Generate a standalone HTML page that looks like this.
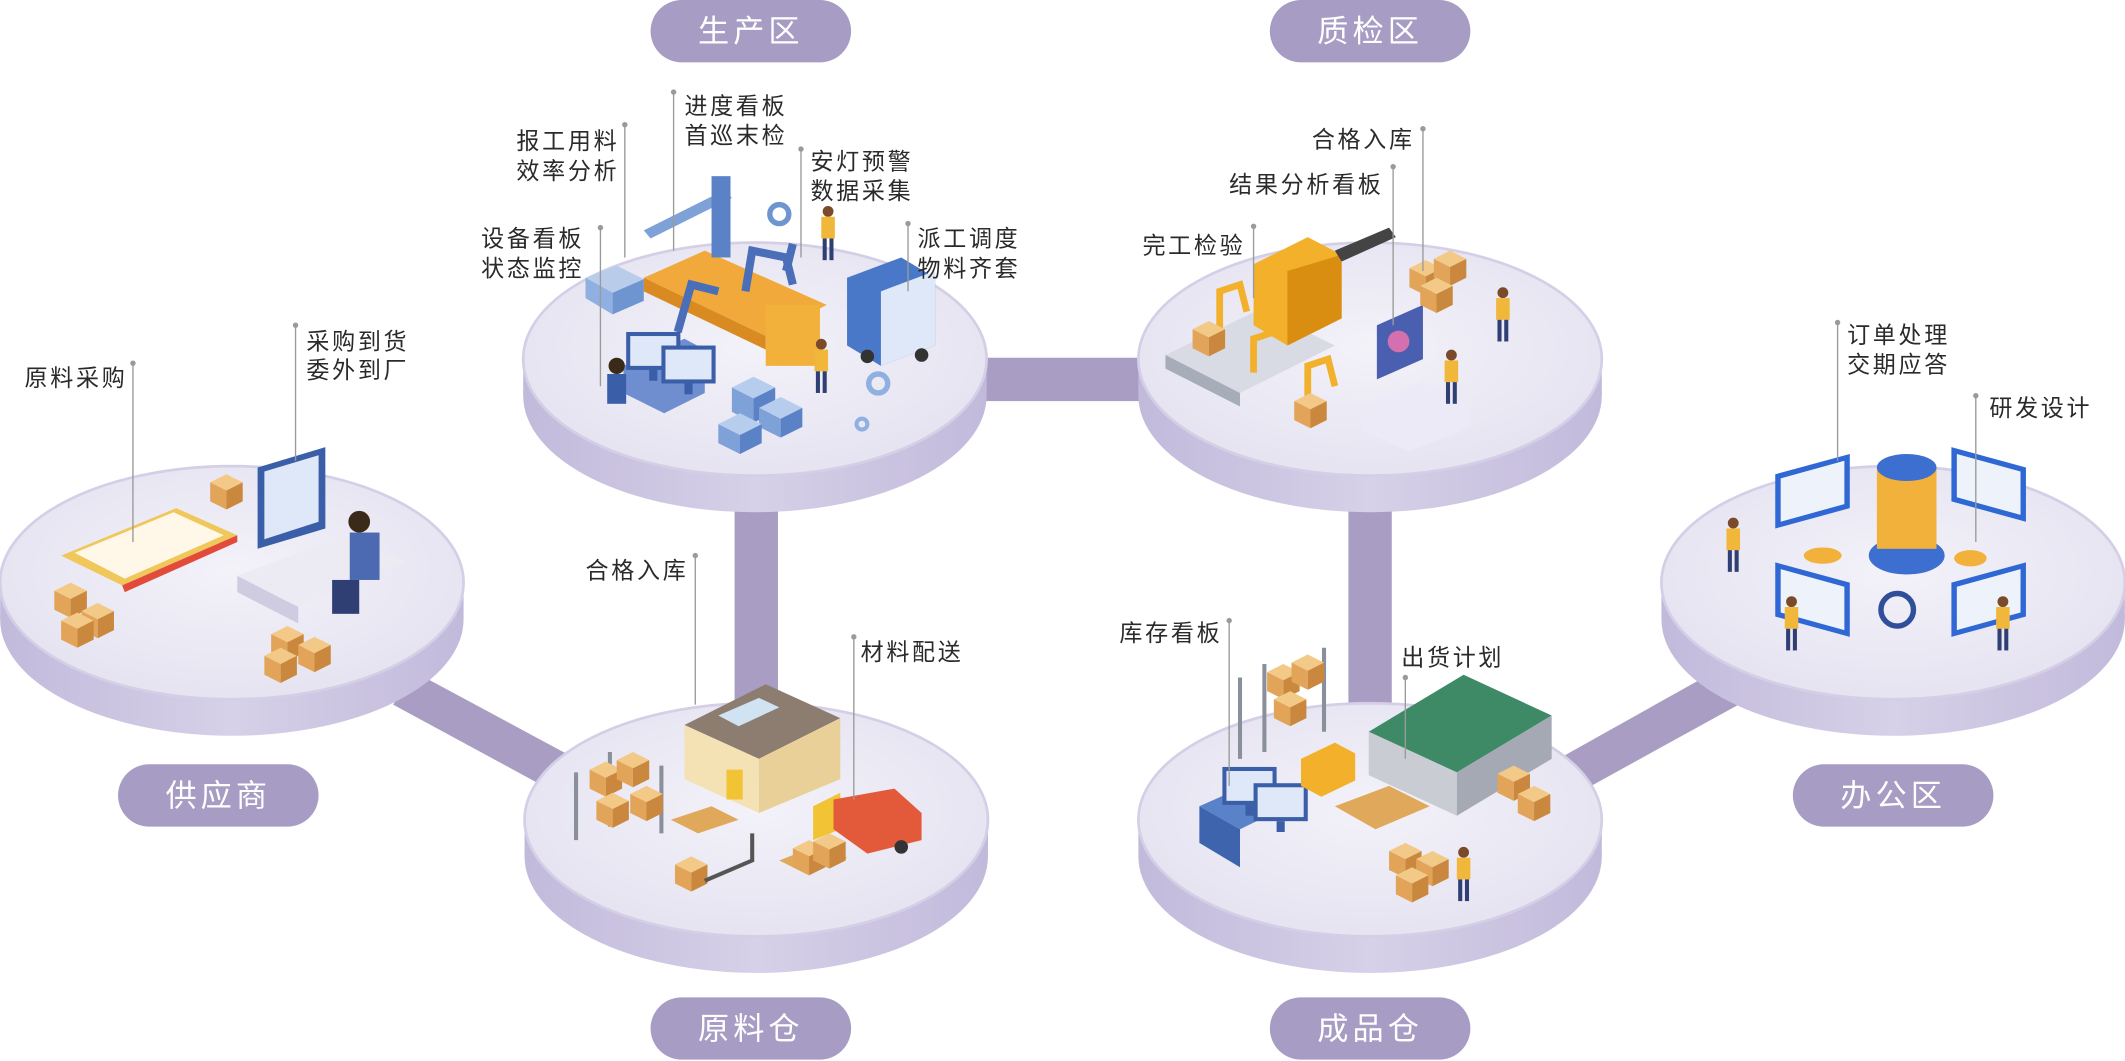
<!DOCTYPE html>
<html><head><meta charset="utf-8">
<style>
html,body{margin:0;padding:0;background:#fff;width:2125px;height:1061px;overflow:hidden}
svg{display:block}
text{font-family:"Liberation Sans","Noto Sans CJK SC",sans-serif}
.a{font-size:17px;fill:#2a2a2a;letter-spacing:2px}
.p{font-size:23px;fill:#fff;letter-spacing:3px}
</style></head><body>
<svg width="2125" height="1061" viewBox="0 0 1568 783" xmlns="http://www.w3.org/2000/svg">
<defs>
<linearGradient id="side" x1="0" y1="0" x2="1" y2="0">
<stop offset="0" stop-color="#c2badb"/><stop offset="0.5" stop-color="#d6d0e8"/><stop offset="1" stop-color="#c2badb"/>
</linearGradient>
<radialGradient id="top" cx="0.5" cy="0.45" r="0.6">
<stop offset="0" stop-color="#f3f2f9"/><stop offset="1" stop-color="#e4e2f0"/>
</radialGradient>
<g id="box"><polygon points="0,6 12,0 24,6 12,12" fill="#f3c987"/><polygon points="0,6 12,12 12,26 0,20" fill="#e2a458"/><polygon points="12,12 24,6 24,20 12,26" fill="#c9883e"/></g>
<g id="mon"><rect x="0" y="0" width="40" height="28" fill="#3b5ea8"/><rect x="3" y="3" width="34" height="22" fill="#dfe8f8"/><rect x="17" y="28" width="6" height="8" fill="#3b5ea8"/></g>
<g id="man"><circle cx="6" cy="4" r="4" fill="#7a4a2a"/><rect x="1" y="8" width="10" height="16" fill="#f0b73a"/><rect x="2" y="24" width="3" height="16" fill="#2f3f73"/><rect x="7" y="24" width="3" height="16" fill="#2f3f73"/></g>
</defs>

<!-- connectors -->
<g fill="#a99dc3">
<rect x="720" y="264" width="125" height="32"/>
<rect x="542" y="365" width="32" height="160"/>
<rect x="995" y="365" width="32" height="160"/>
<polygon points="290,520 306,496 425,560 410,585"/>
<polygon points="1150,560 1268,494 1283,520 1165,585"/>
</g>

<!-- discs -->
<g id="discs">
<g transform="translate(171,430)"><ellipse cx="0" cy="27" rx="171" ry="86" fill="url(#side)"/><rect x="-171" y="0" width="342" height="27" fill="url(#side)"/><ellipse cx="0" cy="0" rx="171" ry="86" fill="url(#top)" stroke="#d4cfe6" stroke-width="2"/></g>
<g transform="translate(557,265)"><ellipse cx="0" cy="27" rx="171" ry="86" fill="url(#side)"/><rect x="-171" y="0" width="342" height="27" fill="url(#side)"/><ellipse cx="0" cy="0" rx="171" ry="86" fill="url(#top)" stroke="#d4cfe6" stroke-width="2"/></g>
<g transform="translate(1011,265)"><ellipse cx="0" cy="27" rx="171" ry="86" fill="url(#side)"/><rect x="-171" y="0" width="342" height="27" fill="url(#side)"/><ellipse cx="0" cy="0" rx="171" ry="86" fill="url(#top)" stroke="#d4cfe6" stroke-width="2"/></g>
<g transform="translate(558,605)"><ellipse cx="0" cy="27" rx="171" ry="86" fill="url(#side)"/><rect x="-171" y="0" width="342" height="27" fill="url(#side)"/><ellipse cx="0" cy="0" rx="171" ry="86" fill="url(#top)" stroke="#d4cfe6" stroke-width="2"/></g>
<g transform="translate(1011,605)"><ellipse cx="0" cy="27" rx="171" ry="86" fill="url(#side)"/><rect x="-171" y="0" width="342" height="27" fill="url(#side)"/><ellipse cx="0" cy="0" rx="171" ry="86" fill="url(#top)" stroke="#d4cfe6" stroke-width="2"/></g>
<g transform="translate(1397,430)"><ellipse cx="0" cy="27" rx="171" ry="86" fill="url(#side)"/><rect x="-171" y="0" width="342" height="27" fill="url(#side)"/><ellipse cx="0" cy="0" rx="171" ry="86" fill="url(#top)" stroke="#d4cfe6" stroke-width="2"/></g>
</g>

<!-- pills -->
<g fill="#a69cc4">
<rect x="480" y="0" width="148" height="46" rx="23"/>
<rect x="937" y="0" width="148" height="46" rx="23"/>
<rect x="87" y="564" width="148" height="46" rx="23"/>
<rect x="1323" y="564" width="148" height="46" rx="23"/>
<rect x="480" y="736" width="148" height="46" rx="23"/>
<rect x="937" y="736" width="148" height="46" rx="23"/>
</g>
<g class="p" text-anchor="middle">
<text x="554" y="31">生产区</text>
<text x="1011" y="31">质检区</text>
<text x="161" y="595">供应商</text>
<text x="1397" y="595">办公区</text>
<text x="554" y="767">原料仓</text>
<text x="1011" y="767">成品仓</text>
</g>

<!-- illustrations: supplier -->
<g>
<polygon points="45,410 130,375 175,395 90,432" fill="#f0c75a"/>
<polygon points="55,408 128,378 165,395 92,427" fill="#fff8e8"/>
<polygon points="90,432 175,395 175,400 92,437" fill="#e24a3a"/>
<g transform="translate(190,330)"><polygon points="0,15 50,0 50,60 0,75" fill="#3b5ea8"/><polygon points="5,18 45,6 45,55 5,68" fill="#dfe8f8"/></g>
<polygon points="175,425 255,395 300,415 220,448" fill="#eceaf3"/>
<polygon points="175,425 220,448 220,460 175,437" fill="#cfcbe0"/>
<circle cx="265" cy="385" r="8" fill="#3a2a1a"/><rect x="258" y="393" width="22" height="35" fill="#4c6ab2"/><rect x="245" y="428" width="20" height="25" fill="#2f3f73"/>
<use href="#box" x="155" y="350"/><use href="#box" x="40" y="430"/><use href="#box" x="60" y="445"/><use href="#box" x="45" y="452"/><use href="#box" x="200" y="462"/><use href="#box" x="220" y="470"/><use href="#box" x="195" y="478"/>
</g>

<!-- production -->
<g>
<polygon points="475,205 520,185 610,225 565,248" fill="#f2a93b"/>
<polygon points="475,205 565,248 565,258 475,215" fill="#d98a20"/>
<rect x="565" y="225" width="40" height="45" fill="#f2b13a"/>
<polygon points="475,170 535,140 540,146 480,176" fill="#7ea1d8"/>
<rect x="525" y="130" width="14" height="60" fill="#5b82c6"/>
<path d="M500,245 l10,-35 l20,5" stroke="#4a6fb8" stroke-width="6" fill="none"/>
<path d="M550,215 l5,-30 l25,5 l5,20" stroke="#4a6fb8" stroke-width="6" fill="none"/>
<path d="M580,200 l5,-20" stroke="#4a6fb8" stroke-width="6" fill="none"/>
<polygon points="432,205 455,196 475,206 452,216" fill="#b9cdea"/><polygon points="432,205 452,216 452,232 432,220" fill="#8fb0e0"/><polygon points="452,216 475,206 475,222 452,232" fill="#6f95d0"/>
<polygon points="460,270 505,250 520,258 520,290 490,305 460,290" fill="#6f8ed0"/>
<use href="#mon" x="462" y="245"/><use href="#mon" x="488" y="255"/>
<circle cx="455" cy="270" r="6" fill="#3a2a1a"/><rect x="448" y="276" width="14" height="22" fill="#3b5ea8"/>
<polygon points="625,205 665,190 690,205 690,255 650,270 625,255" fill="#4a78c8"/><polygon points="650,215 690,200 690,255 650,270" fill="#dfe8f8"/>
<circle cx="640" cy="263" r="5" fill="#333"/><circle cx="680" cy="262" r="5" fill="#333"/>
<use href="#man" x="605" y="152"/><use href="#man" x="600" y="250"/>
<g transform="translate(540,278)"><polygon points="0,8 16,0 32,8 16,16" fill="#b6cdee"/><polygon points="0,8 16,16 16,34 0,26" fill="#7ea1d8"/><polygon points="16,16 32,8 32,26 16,34" fill="#5b82c6"/></g>
<g transform="translate(560,293)"><polygon points="0,8 16,0 32,8 16,16" fill="#b6cdee"/><polygon points="0,8 16,16 16,30 0,22" fill="#7ea1d8"/><polygon points="16,16 32,8 32,22 16,30" fill="#5b82c6"/></g>
<g transform="translate(530,305)"><polygon points="0,8 16,0 32,8 16,16" fill="#b6cdee"/><polygon points="0,8 16,16 16,30 0,22" fill="#7ea1d8"/><polygon points="16,16 32,8 32,22 16,30" fill="#5b82c6"/></g>
<circle cx="575" cy="158" r="7" fill="none" stroke="#6f95d0" stroke-width="4"/><circle cx="648" cy="283" r="7" fill="none" stroke="#8fb0e0" stroke-width="4"/><circle cx="636" cy="313" r="4" fill="none" stroke="#8fb0e0" stroke-width="3"/>
</g>

<!-- QC -->
<g>
<polygon points="860,262 930,228 985,255 915,290" fill="#d8dbe4"/><polygon points="860,262 915,290 915,300 860,272" fill="#a7acb9"/>
<polygon points="925,195 965,175 990,188 990,235 950,255 925,240" fill="#f2b02b"/><polygon points="950,200 990,188 990,235 950,255" fill="#d98e12"/>
<polygon points="985,185 1025,168 1030,175 990,193" fill="#444"/>
<path d="M900,250 l0,-35 l15,-5 l5,20" stroke="#f2b02b" stroke-width="5" fill="none"/>
<path d="M965,300 l0,-30 l15,-5 l5,20" stroke="#f2b02b" stroke-width="5" fill="none"/>
<path d="M925,275 l0,-25 l15,-5" stroke="#f2b02b" stroke-width="5" fill="none"/>
<polygon points="1016,240 1050,225 1050,265 1016,280" fill="#4a5fb0"/><circle cx="1032" cy="252" r="8" fill="#d46fb0"/>
<polygon points="1005,300 1050,282 1085,298 1085,315 1040,333 1005,318" fill="#eceaf6"/>
<use href="#man" x="1065" y="258"/><use href="#man" x="1103" y="212"/>
<use href="#box" x="1040" y="192"/><use href="#box" x="1058" y="185"/><use href="#box" x="1048" y="205"/>
<use href="#box" x="880" y="237"/><use href="#box" x="955" y="290"/>
</g>

<!-- raw warehouse -->
<g>
<polygon points="505,535 565,505 620,530 560,560" fill="#8d7c70"/>
<polygon points="505,535 560,560 560,600 505,575" fill="#f4e2b5"/>
<polygon points="560,560 620,530 620,575 560,600" fill="#e9d098"/>
<rect x="536" y="568" width="12" height="22" fill="#f2c334"/>
<polygon points="530,528 560,515 575,522 545,536" fill="#cfe3f2"/>
<g stroke="#8a8f9c" stroke-width="3"><line x1="425" y1="570" x2="425" y2="620"/><line x1="450" y1="555" x2="450" y2="610"/><line x1="488" y1="565" x2="488" y2="615"/></g>
<use href="#box" x="435" y="562"/><use href="#box" x="455" y="555"/><use href="#box" x="440" y="585"/><use href="#box" x="465" y="580"/>
<polygon points="600,595 620,585 620,612 600,620" fill="#f2c334"/>
<polygon points="615,590 660,582 680,600 680,620 640,630 615,612" fill="#e25a3a"/>
<circle cx="612" cy="622" r="5" fill="#333"/><circle cx="665" cy="625" r="5" fill="#333"/>
<polygon points="495,605 525,595 545,605 515,615" fill="#e0a85a"/><polygon points="575,635 605,623 625,633 595,645" fill="#e0a85a"/>
<use href="#box" x="585" y="620"/><use href="#box" x="600" y="615"/><use href="#box" x="498" y="632"/>
<path d="M520,650 l35,-15 l0,-20" stroke="#555" stroke-width="3" fill="none"/>
</g>

<!-- finished warehouse -->
<g>
<polygon points="1010,540 1080,498 1145,528 1075,570" fill="#3f8a66"/>
<polygon points="1010,540 1075,570 1075,602 1010,572" fill="#c9ccd3"/>
<polygon points="1075,570 1145,528 1145,560 1075,602" fill="#a4a9b3"/>
<g stroke="#8a8f9c" stroke-width="3"><line x1="915" y1="500" x2="915" y2="560"/><line x1="933" y1="490" x2="933" y2="555"/><line x1="977" y1="478" x2="977" y2="540"/></g>
<use href="#box" x="935" y="490"/><use href="#box" x="953" y="483"/><use href="#box" x="940" y="510"/>
<polygon points="885,595 930,575 960,590 915,612" fill="#5a82c8"/><polygon points="885,595 915,612 915,640 885,622" fill="#3d64ac"/>
<use href="#mon" x="902" y="566"/><use href="#mon" x="925" y="578"/>
<polygon points="960,560 985,548 1000,556 1000,576 975,588 960,580" fill="#f2b02b"/>
<polygon points="985,595 1025,580 1055,595 1015,612" fill="#e0a85a"/>
<use href="#box" x="1105" y="565"/><use href="#box" x="1120" y="580"/><use href="#box" x="1025" y="622"/><use href="#box" x="1045" y="628"/><use href="#box" x="1030" y="640"/>
<use href="#man" x="1074" y="625"/>
</g>

<!-- office -->
<g>
<ellipse cx="1407" cy="410" rx="28" ry="14" fill="#3d6fd0"/>
<rect x="1385" y="345" width="44" height="60" fill="#f2b13a"/><ellipse cx="1407" cy="345" rx="22" ry="10" fill="#3d6fd0"/>
<g transform="translate(1310,335)"><polygon points="0,15 55,0 55,40 0,55" fill="#2f68d4"/><polygon points="4,18 51,5 51,37 4,50" fill="#eef3fb"/></g>
<g transform="translate(1440,330)"><polygon points="0,0 55,15 55,55 0,40" fill="#2f68d4"/><polygon points="4,5 51,18 51,50 4,37" fill="#eef3fb"/></g>
<g transform="translate(1310,415)"><polygon points="0,0 55,15 55,55 0,40" fill="#2f68d4"/><polygon points="4,5 51,18 51,50 4,37" fill="#eef3fb"/></g>
<g transform="translate(1440,415)"><polygon points="0,15 55,0 55,40 0,55" fill="#2f68d4"/><polygon points="4,18 51,5 51,37 4,50" fill="#eef3fb"/></g>
<circle cx="1400" cy="450" r="12" fill="none" stroke="#2f4f9a" stroke-width="4"/>
<use href="#man" x="1273" y="382"/><use href="#man" x="1316" y="440"/><use href="#man" x="1472" y="440"/>
<ellipse cx="1345" cy="410" rx="14" ry="6" fill="#f2b13a"/><ellipse cx="1454" cy="412" rx="12" ry="6" fill="#f2b13a"/>
</g>

<!-- annotation lines -->
<g stroke="#9a9a9a" stroke-width="1" fill="none">
<line x1="98" y1="268" x2="98" y2="400"/>
<line x1="218" y1="240" x2="218" y2="340"/>
<line x1="443" y1="168" x2="443" y2="285"/>
<line x1="461" y1="92" x2="461" y2="190"/>
<line x1="497" y1="68" x2="497" y2="185"/>
<line x1="591" y1="110" x2="591" y2="190"/>
<line x1="670" y1="165" x2="670" y2="215"/>
<line x1="1050" y1="95" x2="1050" y2="200"/>
<line x1="1028" y1="123" x2="1028" y2="240"/>
<line x1="925" y1="167" x2="925" y2="220"/>
<line x1="1356" y1="238" x2="1356" y2="340"/>
<line x1="1458" y1="292" x2="1458" y2="400"/>
<line x1="513" y1="410" x2="513" y2="520"/>
<line x1="630" y1="470" x2="630" y2="590"/>
<line x1="907" y1="458" x2="907" y2="580"/>
<line x1="1037" y1="500" x2="1037" y2="560"/>
</g>
<g fill="#9a9a9a">
<circle cx="98" cy="268" r="2"/><circle cx="218" cy="240" r="2"/><circle cx="443" cy="168" r="2"/><circle cx="461" cy="92" r="2"/><circle cx="497" cy="68" r="2"/><circle cx="591" cy="110" r="2"/><circle cx="670" cy="165" r="2"/><circle cx="1050" cy="95" r="2"/><circle cx="1028" cy="123" r="2"/><circle cx="925" cy="167" r="2"/><circle cx="1356" cy="238" r="2"/><circle cx="1458" cy="292" r="2"/><circle cx="513" cy="410" r="2"/><circle cx="630" cy="470" r="2"/><circle cx="907" cy="458" r="2"/><circle cx="1037" cy="500" r="2"/>
</g>

<!-- annotation text -->
<g class="a">
<text x="18" y="285">原料采购</text>
<text x="226" y="258">采购到货</text><text x="226" y="279">委外到厂</text>
<text x="355" y="182">设备看板</text><text x="355" y="204">状态监控</text>
<text x="381" y="110">报工用料</text><text x="381" y="132">效率分析</text>
<text x="505" y="84">进度看板</text><text x="505" y="106">首巡末检</text>
<text x="598" y="125">安灯预警</text><text x="598" y="147">数据采集</text>
<text x="677" y="182">派工调度</text><text x="677" y="204">物料齐套</text>
<text x="968" y="109">合格入库</text>
<text x="907" y="142">结果分析看板</text>
<text x="843" y="187">完工检验</text>
<text x="1363" y="253">订单处理</text><text x="1363" y="275">交期应答</text>
<text x="1468" y="307">研发设计</text>
<text x="432" y="427">合格入库</text>
<text x="635" y="487">材料配送</text>
<text x="826" y="473">库存看板</text>
<text x="1034" y="491">出货计划</text>
</g>
</svg>
</body></html>
